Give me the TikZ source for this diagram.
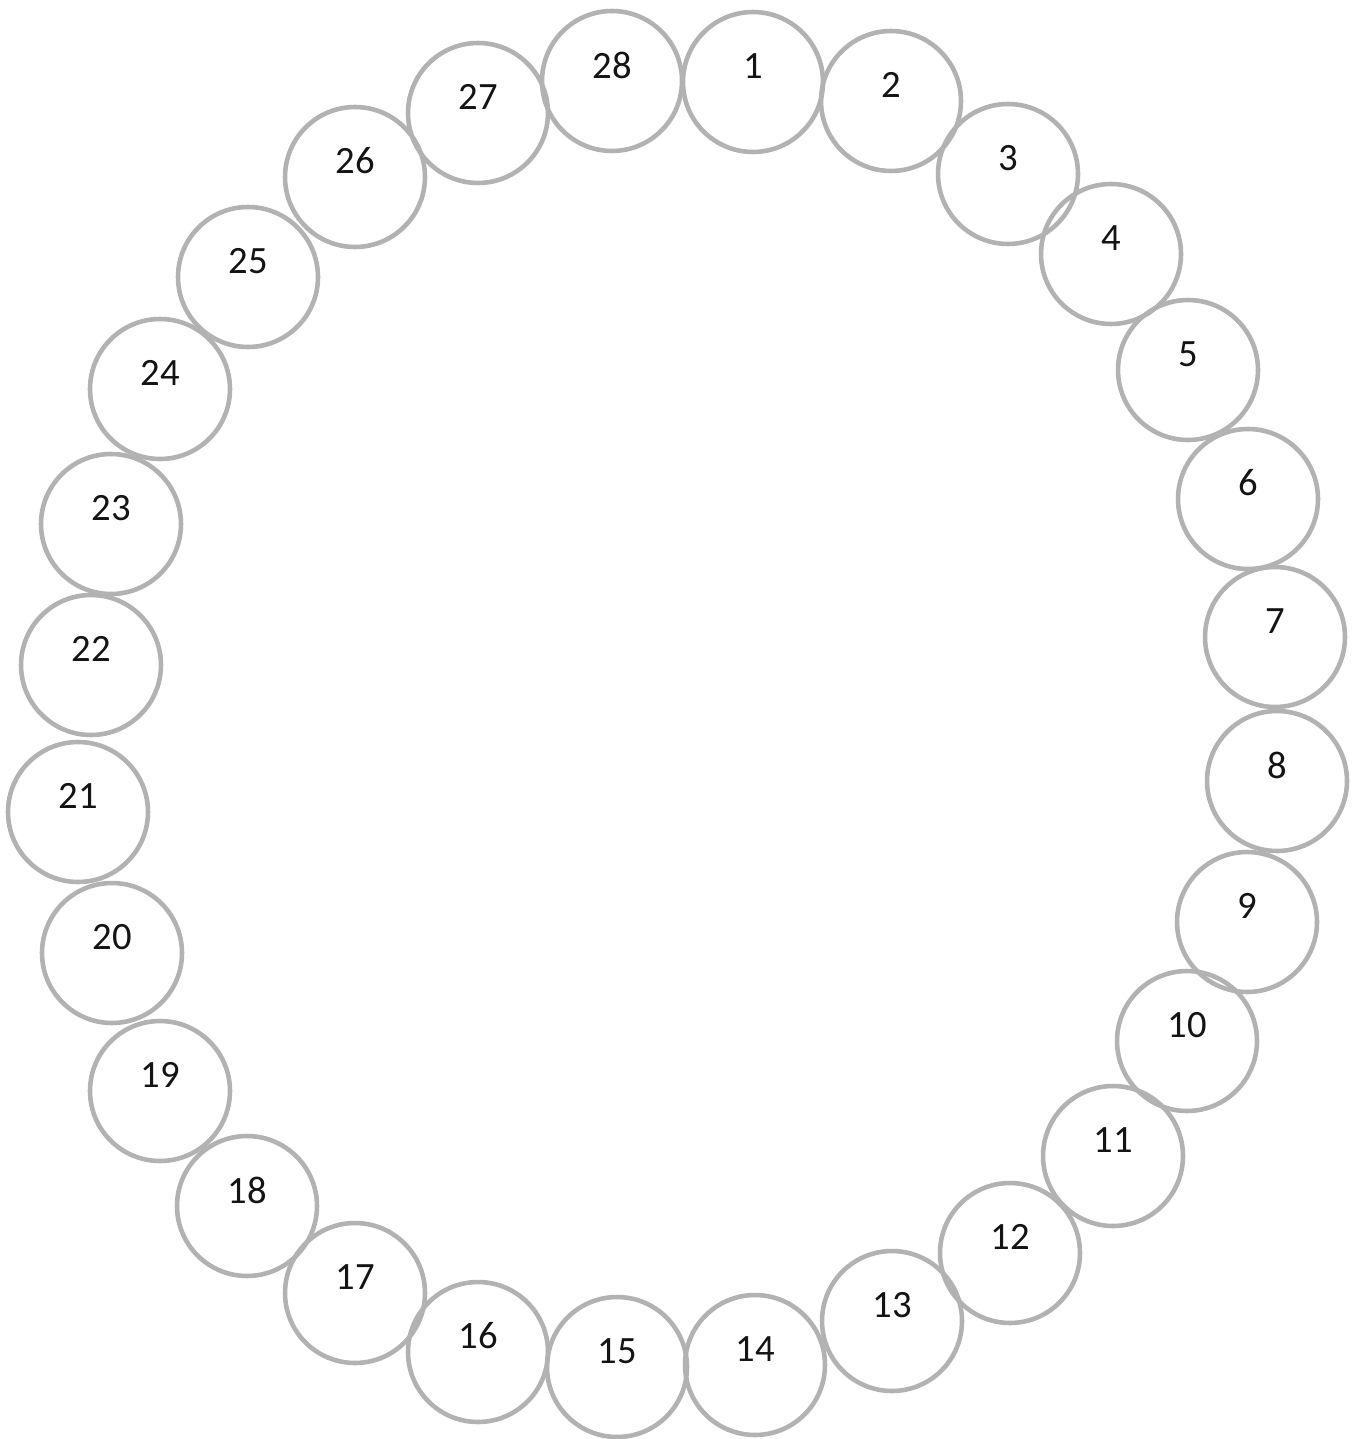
\documentclass[tikz,border=0pt]{standalone}
\usepackage{fontspec}
\setmainfont{Carlito}
\usepackage{tikz}
\tikzset{
  ring/.style={draw=black!30, line width=2.6pt, circle, minimum size=2.8cm, inner sep=0pt},
  num/.style={text=black!92, font=\fontsize{22}{26}\selectfont, inner sep=0pt, yshift=0.32cm}
}
\begin{document}
\begin{tikzpicture}[x=0.02cm, y=-0.02cm]
  \useasboundingbox[fill=white] (0,0) rectangle (1359,1439);
  % ring of 28 circles, clockwise from the top
  \node[ring] (c1) at (753,82) {};    \node[num] (n1) at (c1) {1};
  \node[ring] (c2) at (891,101) {};   \node[num] (n2) at (c2) {2};
  \node[ring] (c3) at (1008,174) {};  \node[num] (n3) at (c3) {3};
  \node[ring] (c4) at (1111,254) {};  \node[num] (n4) at (c4) {4};
  \node[ring] (c5) at (1188,370) {};  \node[num] (n5) at (c5) {5};
  \node[ring] (c6) at (1248,499) {};  \node[num] (n6) at (c6) {6};
  \node[ring] (c7) at (1275,637) {};  \node[num] (n7) at (c7) {7};
  \node[ring] (c8) at (1277,781) {};  \node[num] (n8) at (c8) {8};
  \node[ring] (c9) at (1247,922) {};  \node[num] (n9) at (c9) {9};
  \node[ring] (c10) at (1187,1041) {}; \node[num] (n10) at (c10) {10};
  \node[ring] (c11) at (1113,1156) {}; \node[num] (n11) at (c11) {11};
  \node[ring] (c12) at (1010,1253) {}; \node[num] (n12) at (c12) {12};
  \node[ring] (c13) at (892,1321) {};  \node[num] (n13) at (c13) {13};
  \node[ring] (c14) at (755,1365) {};  \node[num] (n14) at (c14) {14};
  \node[ring] (c15) at (617,1367) {};  \node[num] (n15) at (c15) {15};
  \node[ring] (c16) at (478,1352) {};  \node[num] (n16) at (c16) {16};
  \node[ring] (c17) at (355,1293) {};  \node[num] (n17) at (c17) {17};
  \node[ring] (c18) at (247,1206) {};  \node[num] (n18) at (c18) {18};
  \node[ring] (c19) at (160,1091) {};  \node[num] (n19) at (c19) {19};
  \node[ring] (c20) at (112,953) {};   \node[num] (n20) at (c20) {20};
  \node[ring] (c21) at (78,812) {};    \node[num] (n21) at (c21) {21};
  \node[ring] (c22) at (91,665) {};    \node[num] (n22) at (c22) {22};
  \node[ring] (c23) at (111,524) {};   \node[num] (n23) at (c23) {23};
  \node[ring] (c24) at (160,389) {};   \node[num] (n24) at (c24) {24};
  \node[ring] (c25) at (248,277) {};   \node[num] (n25) at (c25) {25};
  \node[ring] (c26) at (355,177) {};   \node[num] (n26) at (c26) {26};
  \node[ring] (c27) at (478,113) {};   \node[num] (n27) at (c27) {27};
  \node[ring] (c28) at (612,81) {};    \node[num] (n28) at (c28) {28};
\end{tikzpicture}
\end{document}
